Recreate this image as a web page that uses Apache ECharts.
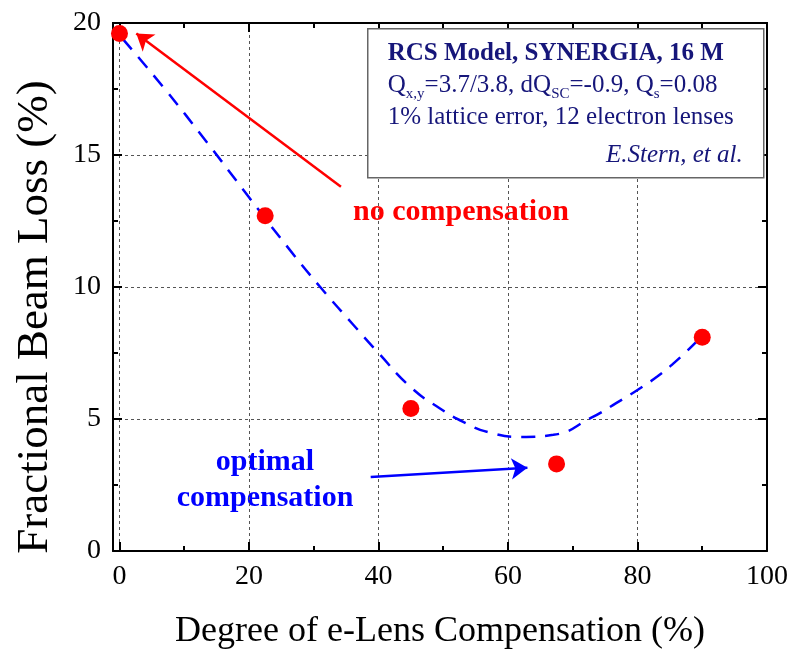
<!DOCTYPE html>
<html lang="en">
<head>
	<meta charset="UTF-8">
	<title>e-Lens compensation</title>
	<style>
		html, body { margin: 0; padding: 0; background: #fff; }
	</style>
</head>
<body>
	<div id="demo" style="width: 791px;height:651px;"></div>
	<script src="https://cdn.jsdelivr.net/npm/echarts@6/dist/echarts.min.js"></script>
	<script>
		// simulation points
		var compensation = [0, 22.5, 45, 67.5, 90];
		var beamLoss = [19.6, 12.7, 5.4, 3.3, 8.1];

		// dashed fit curve
		var fitX = [0.5, 7, 13.6, 20, 26, 31, 36, 40, 45, 49.5, 53, 57, 62, 67, 72.8, 76.7, 80, 83, 86, 89];
		var fitY = [19.4, 17.5, 15.45, 13.4, 11.5, 10, 8.6, 7.5, 6.2, 5.4, 4.9, 4.5, 4.32, 4.4, 5.04, 5.6, 6.1, 6.6, 7.2, 7.9];

		// tick labels
		var xMajor = [0, 20, 40, 60, 80, 100];
		var xMinor = [10, 30, 50, 70, 90];

		// arrows: [from, to] in data units
		var redArrow = [[34.2, 13.8], [2.6, 19.6]];
		var blueArrow = [[38.8, 2.8], [63.0, 3.15]];

		var serif = '"Liberation Serif", "Times New Roman", serif';
		var navy = '#16167a';

		var myChart = echarts.init(document.getElementById('demo'));

		function zip(a, b) {
			return a.map(function (v, i) { return [v, b[i]]; });
		}

		function xAxisDef(pos, ticks, len, main) {
			return {
				type: 'value',
				position: pos,
				min: -1,
				max: 100,
				name: main ? 'Degree of e-Lens Compensation (%)' : '',
				nameLocation: 'middle',
				nameGap: 63,
				nameTextStyle: { fontFamily: serif, fontSize: 36, color: '#000' },
				axisLine: { show: !!main || pos === 'top', onZero: false, lineStyle: { color: '#000', width: 2 } },
				axisTick: { show: true, inside: true, length: len, customValues: ticks, lineStyle: { color: '#000', width: 2 } },
				axisLabel: { show: !!main && pos === 'bottom', customValues: ticks, margin: 12, fontFamily: serif, fontSize: 28, color: '#000' },
				splitLine: { show: !!main && pos === 'bottom', lineStyle: { color: '#555', type: [3, 3], width: 1 } }
			};
		}

		function yAxisDef(pos, main) {
			return {
				type: 'value',
				position: pos,
				min: 0,
				max: 20,
				interval: 5,
				axisLine: { show: true, onZero: false, lineStyle: { color: '#000', width: 2 } },
				axisTick: { show: true, inside: true, length: 9, lineStyle: { color: '#000', width: 2 } },
				minorTick: { show: true, splitNumber: 2, length: 5, lineStyle: { color: '#000', width: 2 } },
				axisLabel: { show: main, margin: 12, fontFamily: serif, fontSize: 28, color: '#000' },
				splitLine: { show: main, lineStyle: { color: '#555', type: [3, 3], width: 1 } }
			};
		}

		var arrowStyle = function (c) {
			return { lineStyle: { color: c, width: 2.5, type: 'solid' }, itemStyle: { color: c } };
		};

		var option = {
			animation: false,
			grid: { left: 113, right: 24, top: 23, bottom: 100, outerBoundsMode: 'none' },
			xAxis: [
				xAxisDef('bottom', xMajor, 9, true),
				xAxisDef('bottom', xMinor, 5, false),
				xAxisDef('top', xMajor, 9, false),
				xAxisDef('top', xMinor, 5, false)
			],
			yAxis: [yAxisDef('left', true), yAxisDef('right', false)],
			series: [{
				type: 'line',
				data: zip(fitX, fitY),
				smooth: true,
				showSymbol: false,
				lineStyle: { color: '#0000ff', width: 2.5, type: [14, 10] },
				z: 2
			}, {
				type: 'scatter',
				data: zip(compensation, beamLoss),
				symbolSize: 17,
				itemStyle: { color: '#ff0000', opacity: 1 },
				z: 4,
				markLine: {
					silent: true,
					symbol: ['none', 'arrow'],
					symbolSize: 16,
					label: { show: false },
					emphasis: { disabled: true },
					data: [
						[echarts.util.extend({ coord: redArrow[0] }, arrowStyle('#ff0000')),
						 echarts.util.extend({ coord: redArrow[1] }, arrowStyle('#ff0000'))],
						[echarts.util.extend({ coord: blueArrow[0] }, arrowStyle('#0000ff')),
						 echarts.util.extend({ coord: blueArrow[1] }, arrowStyle('#0000ff'))]
					]
				}
			}],
			graphic: [{
				type: 'text',
				x: 35,
				y: 317,
				rotation: Math.PI / 2,
				style: {
					text: 'Fractional Beam Loss (%)',
					font: '45px ' + serif,
					fill: '#000',
					align: 'center',
					verticalAlign: 'middle'
				}
			}, {
				type: 'text',
				left: 353,
				top: 197,
				style: { text: 'no compensation', font: 'bold 30px ' + serif, fill: '#ff0000' }
			}, {
				type: 'text',
				x: 265,
				y: 444,
				style: {
					text: 'optimal\ncompensation',
					font: 'bold 30px ' + serif,
					fill: '#0000ff',
					align: 'center',
					verticalAlign: 'top',
					lineHeight: 36
				}
			}, {
				type: 'group',
				left: 367,
				top: 28,
				z: 10,
				children: [{
					type: 'rect',
					z: 100,
					shape: { x: 0, y: 0, width: 396, height: 149 },
					style: { fill: '#fff', stroke: '#666', lineWidth: 1.5 }
				}, {
					type: 'text',
					z: 101,
					x: 20,
					y: 9,
					style: {
						text: '{b|RCS Model, SYNERGIA, 16 M}\n' +
							'{n|Q}{s|x,y}{n|=3.7/3.8, dQ}{s|SC}{n|=-0.9, Q}{s|s}{n|=0.08}\n' +
							'{n|1% lattice error, 12 electron lenses}',
						fill: navy,
						rich: {
							b: { font: 'bold 25px ' + serif, fill: navy, lineHeight: 32, verticalAlign: 'middle' },
							n: { font: '25px ' + serif, fill: navy, lineHeight: 32, verticalAlign: 'middle' },
							s: { font: '15px ' + serif, fill: navy, lineHeight: 32, verticalAlign: 'bottom' }
						}
					}
				}, {
					type: 'text',
					z: 101,
					x: 375,
					y: 127,
					style: {
						text: 'E.Stern, et al.',
						font: 'italic 25px ' + serif,
						fill: navy,
						align: 'right',
						verticalAlign: 'middle'
					}
				}]
			}]
		};

		myChart.setOption(option);
	</script>
</body>
</html>
